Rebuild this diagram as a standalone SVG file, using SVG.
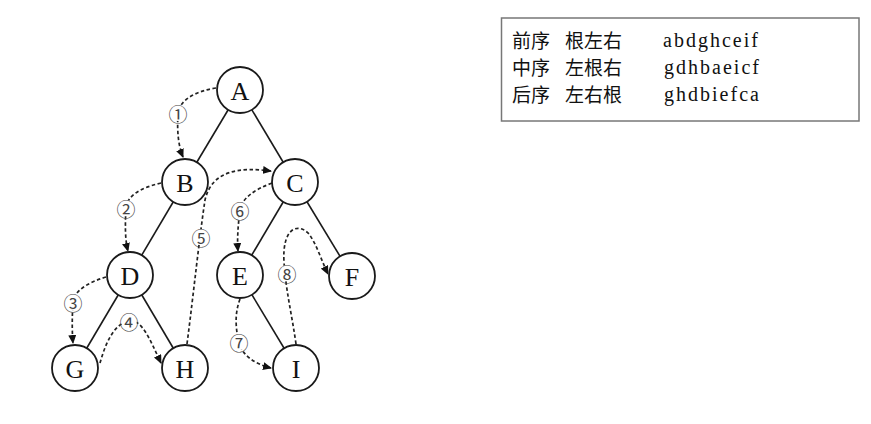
<svg xmlns="http://www.w3.org/2000/svg" width="871" height="424" viewBox="0 0 871 424">
<style>
.edge{stroke:#1a1a1a;stroke-width:1.6;fill:none}
.node circle{fill:#fff;stroke:#1a1a1a;stroke-width:1.8}
.node text{font-family:"Liberation Serif","DejaVu Serif",serif;font-size:26px;fill:#111;text-anchor:middle;dominant-baseline:central}
.trav{stroke:#222;stroke-width:1.7;stroke-dasharray:3.5 2.5;fill:none;marker-end:url(#ah)}
.lab circle{fill:#fff;stroke:none}
.lab text{font-family:"Noto Sans CJK SC","DejaVu Sans",sans-serif;font-size:19px;fill:#444;text-anchor:middle;dominant-baseline:central}
.cn{font-family:"Noto Sans CJK SC","Noto Sans CJK JP",sans-serif;font-size:19px;fill:#111}
.lat{font-family:"Liberation Serif","DejaVu Serif",serif;font-size:20px;fill:#111}
</style>
<defs>
<marker id="ah" markerWidth="9" markerHeight="8" refX="8" refY="4" orient="auto" markerUnits="userSpaceOnUse">
<path d="M0,0 L9,4 L0,8 Z" fill="#111"/>
</marker>
</defs>
<rect width="871" height="424" fill="#fff"/>
<g id="edges">
<line class="edge" x1="240" y1="90" x2="185" y2="182"/>
<line class="edge" x1="240" y1="90" x2="295" y2="182"/>
<line class="edge" x1="185" y1="182" x2="130" y2="275"/>
<line class="edge" x1="130" y1="275" x2="75" y2="368"/>
<line class="edge" x1="130" y1="275" x2="185" y2="368"/>
<line class="edge" x1="295" y1="182" x2="240" y2="275"/>
<line class="edge" x1="295" y1="182" x2="352" y2="276"/>
<line class="edge" x1="240" y1="275" x2="296" y2="368"/>
</g>
<g id="traversal">
<path class="trav" d="M216,88 C196,91 179,100 178,114 C177,130 178,145 183,157"/>
<path class="trav" d="M161,183 C140,188 127,196 126,208 C125,225 125,240 128,251"/>
<path class="trav" d="M106,277 C86,283 74,292 73,302 C72,318 72,332 73,343"/>
<path class="trav" d="M100,363 C105,345 113,325 128,321 C142,318 150,340 161,363"/>
<path class="trav" d="M187,344 C194,290 199,240 205,200 C212,170 240,167 271,171"/>
<path class="trav" d="M272,183 C254,190 242,198 240,210 C238,225 237,240 238,251"/>
<path class="trav" d="M240,299 C234,315 236,330 239,343 C243,356 255,364 271,368"/>
<path class="trav" d="M296,344 C292,315 286,292 284,262 C282,228 298,222 309,234 C317,245 322,262 328,274"/>
</g>
<g id="labels">
<g class="lab"><circle cx="178" cy="113" r="8"/><text x="178" y="113">①</text></g>
<g class="lab"><circle cx="126" cy="208" r="8"/><text x="126" y="208">②</text></g>
<g class="lab"><circle cx="73" cy="302" r="8"/><text x="73" y="302">③</text></g>
<g class="lab"><circle cx="129" cy="321" r="8"/><text x="129" y="321">④</text></g>
<g class="lab"><circle cx="201" cy="237" r="8"/><text x="201" y="237">⑤</text></g>
<g class="lab"><circle cx="240" cy="210" r="8"/><text x="240" y="210">⑥</text></g>
<g class="lab"><circle cx="239" cy="342" r="8"/><text x="239" y="342">⑦</text></g>
<g class="lab"><circle cx="287" cy="273" r="8"/><text x="287" y="273">⑧</text></g>
</g>
<g id="node-A" class="node"><circle cx="240" cy="90" r="23"/><text x="240" y="91">A</text></g>
<g id="node-B" class="node"><circle cx="185" cy="182" r="23"/><text x="185" y="183">B</text></g>
<g id="node-C" class="node"><circle cx="295" cy="182" r="23"/><text x="295" y="183">C</text></g>
<g id="node-D" class="node"><circle cx="130" cy="275" r="23"/><text x="130" y="276">D</text></g>
<g id="node-E" class="node"><circle cx="240" cy="275" r="23"/><text x="240" y="276">E</text></g>
<g id="node-F" class="node"><circle cx="352" cy="276" r="23"/><text x="352" y="277">F</text></g>
<g id="node-G" class="node"><circle cx="75" cy="368" r="23"/><text x="75" y="369">G</text></g>
<g id="node-H" class="node"><circle cx="185" cy="368" r="23"/><text x="185" y="369">H</text></g>
<g id="node-I" class="node"><circle cx="296" cy="368" r="23"/><text x="296" y="369">I</text></g>
<g id="legend">
<rect x="501.5" y="18" width="357.5" height="103" fill="#fff" stroke="#777" stroke-width="1.5"/>
<text class="cn" x="512" y="48">前序</text><text class="cn" x="565" y="48">根左右</text><text class="lat" x="663" y="47" textLength="95" lengthAdjust="spacing">abdghceif</text>
<text class="cn" x="512" y="75">中序</text><text class="cn" x="565" y="75">左根右</text><text class="lat" x="664" y="74" textLength="95" lengthAdjust="spacing">gdhbaeicf</text>
<text class="cn" x="512" y="102">后序</text><text class="cn" x="565" y="102">左右根</text><text class="lat" x="664" y="101" textLength="95" lengthAdjust="spacing">ghdbiefca</text>
</g>
</svg>
